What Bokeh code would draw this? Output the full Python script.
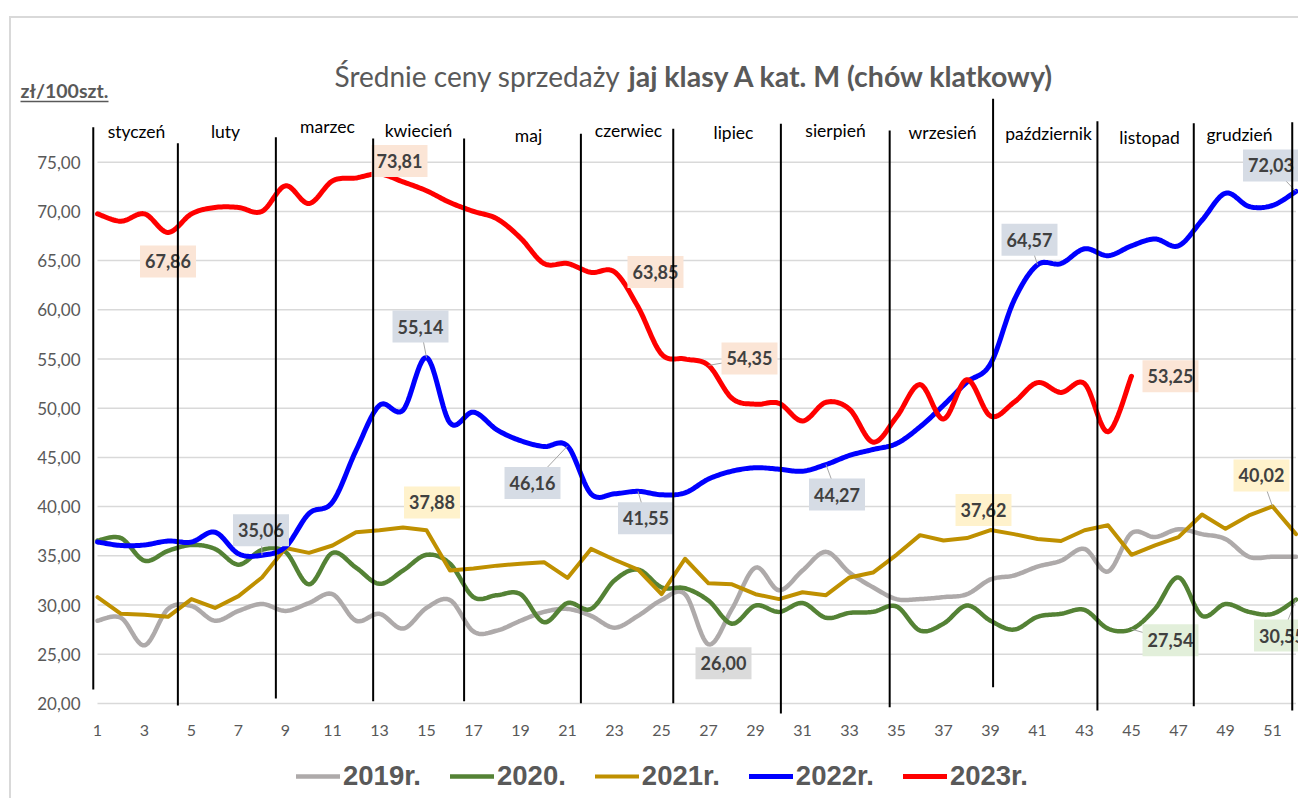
import numpy as np
from bokeh.plotting import figure
from bokeh.models import Range1d, Label, Legend, LegendItem, Arrow, ColumnDataSource
from bokeh.core.properties import value
from bokeh.embed import file_html
from bokeh.resources import INLINE

# ---------------- data ----------------
weeks = list(range(1, 53))
y2019 = [28.4, 28.7, 25.9, 29.6, 29.9, 28.4, 29.4, 30.1, 29.4, 30.2,
         31.1, 28.4, 29.1, 27.6, 29.7, 30.5, 27.3, 27.4, 28.4, 29.3,
         29.6, 28.9, 27.7, 28.9, 30.5, 31.1, 26.00, 29.6, 33.8, 31.5,
         33.5, 35.4, 33.3, 31.8, 30.6, 30.6, 30.8, 31.1, 32.6, 33.0,
         33.9, 34.5, 35.7, 33.4, 37.3, 36.9, 37.7, 37.2, 36.7, 34.9,
         34.9, 34.9]
y2020 = [36.55, 36.8, 34.5, 35.5, 36.1, 35.7, 34.1, 35.6, 35.4, 32.1,
         35.3, 33.8, 32.15, 33.5, 35.1, 34.2, 30.8, 31.0, 31.1, 28.25,
         30.2, 29.6, 32.5, 33.6, 31.8, 31.7, 30.45, 28.1, 29.95, 29.3,
         30.2, 28.7, 29.2, 29.3, 29.85, 27.4, 28.1, 29.95, 28.4, 27.5,
         28.8, 29.1, 29.5, 27.6, 27.54, 29.6, 32.8, 28.9, 30.1, 29.3,
         29.1, 30.55]
y2021 = [30.8, 29.1, 29.0, 28.8, 30.6, 29.7, 30.9, 32.8, 35.8, 35.3,
         36.05, 37.4, 37.6, 37.88, 37.6, 33.5, 33.7, 34.0, 34.2, 34.35,
         32.75, 35.7, 34.6, 33.6, 31.1, 34.7, 32.2, 32.1, 31.1, 30.6,
         31.3, 31.0, 32.8, 33.3, 35.1, 37.1, 36.55, 36.8, 37.62, 37.2,
         36.7, 36.5, 37.6, 38.1, 35.1, 36.05, 36.9, 39.2, 37.74, 39.1,
         40.02, 37.2]
y2022 = [36.4, 36.05, 36.1, 36.5, 36.4, 37.4, 35.2, 35.06, 35.9, 39.3,
         40.45, 45.7, 50.3, 49.8, 55.14, 48.5, 49.6, 47.8, 46.7, 46.1,
         46.16, 41.3, 41.3, 41.55, 41.2, 41.4, 42.8, 43.6, 43.95, 43.8,
         43.6, 44.27, 45.2, 45.8, 46.4, 48.1, 50.3, 52.65, 54.5, 60.95,
         64.57, 64.7, 66.2, 65.5, 66.5, 67.2, 66.5, 69.1, 71.85, 70.5,
         70.6, 72.03]
y2023 = [69.75, 69.0, 69.75, 67.86, 69.75, 70.4, 70.4, 70.0, 72.6, 70.8,
         73.1, 73.4, 73.81, 73.0, 72.1, 70.9, 70.0, 69.25, 67.3, 64.7,
         64.7, 63.8, 63.85, 60.3, 55.5, 55.0, 54.35, 51.0, 50.4, 50.5,
         48.7, 50.6, 49.9, 46.55, 49.1, 52.4, 48.9, 52.9, 49.2, 50.6,
         52.6, 51.6, 52.5, 47.6, 53.25]
series_names = ["2019r.", "2020.", "2021r.", "2022r.", "2023r."]
months = ["styczeń", "luty", "marzec", "kwiecień", "maj", "czerwiec", "lipiec",
          "sierpień", "wrzesień", "październik", "listopad", "grudzień"]
month_bounds = [0.82, 4.42, 8.59, 12.73, 16.6, 21.57, 25.5, 30.08, 34.71, 39.11, 43.55, 47.65, 51.84]
y_ticks = [20, 25, 30, 35, 40, 45, 50, 55, 60, 65, 70, 75]
y_tick_labels = ["20,00", "25,00", "30,00", "35,00", "40,00", "45,00", "50,00",
                 "55,00", "60,00", "65,00", "70,00", "75,00"]
x_ticks = list(range(1, 52, 2))
x_tick_labels = [str(t) for t in x_ticks]

# ---------------- styles ----------------
FONT = "Lato"
TXT = "#595959"
COLORS = ["#AEAAAA", "#548235", "#BF9000", "#0000FF", "#FF0000"]
WIDTHS = [4.5, 4.5, 4.0, 5.0, 5.0]
SMOOTH = [True, True, False, True, True]
LABEL_FILLS = ["#DBDBDB", "#E2EFDA", "#FFF2CC", "#D6DCE5", "#FBE5D6"]
PX_X = 23.5   # pixels per week
PX_Y = 9.84   # pixels per unit


def smooth(xs, ys, n=14):
    xs = np.asarray(xs, float)
    ys = np.asarray(ys, float)
    N = len(xs)
    ox, oy = [], []
    for i in range(N - 1):
        i0, i3 = max(i - 1, 0), min(i + 2, N - 1)
        x0, y0, x1, y1 = xs[i0], ys[i0], xs[i], ys[i]
        x2, y2, x3, y3 = xs[i + 1], ys[i + 1], xs[i3], ys[i3]
        c1x, c1y = x1 + (x2 - x0) / 6, y1 + (y2 - y0) / 6
        c2x, c2y = x2 - (x3 - x1) / 6, y2 - (y3 - y1) / 6
        t = np.linspace(0, 1, n, endpoint=(i == N - 2))
        a, b, c, d = (1 - t) ** 3, 3 * t * (1 - t) ** 2, 3 * t ** 2 * (1 - t), t ** 3
        ox.extend(a * x1 + b * c1x + c * c2x + d * x2)
        oy.extend(a * y1 + b * c1y + c * c2y + d * y2)
    return ox, oy


def wx(px):  # page pixel x -> week units (text placement)
    return 1 + (px - 97) / PX_X


def vy(py):  # page pixel y -> value units (text placement)
    return 75 - (py - 161.7) / PX_Y


p = figure(frame_width=1287, frame_height=780,
           x_range=Range1d(wx(11), wx(1298)), y_range=Range1d(vy(798), vy(18)),
           output_backend="svg", toolbar_location=None,
           x_axis_location=None, y_axis_location=None,
           min_border_left=0, min_border_right=0, min_border_top=0, min_border_bottom=0)
p.styles = {"margin-top": "16px", "margin-left": "9px",
            "border-top": "2px solid #D9D9D9", "border-left": "2px solid #D9D9D9"}
p.outline_line_color = None
p.grid.visible = False
p.background_fill_color = "white"
p.border_fill_color = "white"

# value grid and tick labels
p.segment(x0=[weeks[0]] * len(y_ticks), y0=y_ticks, x1=[weeks[-1]] * len(y_ticks), y1=y_ticks,
          line_color="#D9D9D9", line_width=1.5)
p.text(x=[wx(80)] * len(y_ticks), y=y_ticks, text=y_tick_labels, text_align="right",
       text_baseline="middle", text_font=value(FONT), text_font_size="17px", text_color=TXT)
p.text(x=x_ticks, y=[vy(730)] * len(x_ticks), text=x_tick_labels, text_align="center",
       text_baseline="middle", text_font=value(FONT), text_font_size="16px", text_color=TXT)

# month names
month_x = [wx(v) for v in [136, 225, 327, 418, 528, 628, 733, 835, 942, 1048, 1149, 1239]]
month_y = [vy(v) for v in [131, 131, 126, 130, 135, 130, 132, 130, 132, 133, 137, 134]]
p.text(x=month_x, y=month_y, text=months, text_align="center", text_baseline="middle",
       text_font=value(FONT), text_font_size="17.5px", text_color="black")

# title and unit
p.text(x=[wx(334)], y=[vy(75)], text=["Średnie ceny sprzedaży "], text_align="left",
       text_baseline="middle", text_font=value(FONT), text_font_size="28px", text_color=TXT)
p.text(x=[wx(628)], y=[vy(75)], text=["jaj klasy A kat.  M (chów klatkowy)"], text_align="left",
       text_baseline="middle", text_font=value(FONT), text_font_style="bold",
       text_font_size="28.5px", text_color=TXT)
p.text(x=[wx(20)], y=[vy(90)], text=["zł/100szt."], text_align="left",
       text_baseline="middle", text_font=value(FONT), text_font_style="bold",
       text_font_size="19.5px", text_color=TXT)
p.segment(x0=[wx(20)], y0=[vy(101)], x1=[wx(108)], y1=[vy(101)], line_color=TXT, line_width=1.5)

# series
all_series = [y2019, y2020, y2021, y2022, y2023]
renderers = []
for ys, col, lw, sm in zip(all_series, COLORS, WIDTHS, SMOOTH):
    xs = weeks[:len(ys)]
    sx, sy = smooth(xs, ys) if sm else (xs, ys)
    r = p.line(sx, sy, line_color=col, line_width=lw, line_join="round", line_cap="round")
    renderers.append(r)

# data labels: (series index, week, x offset px, y offset px, leader)
data_labels = [
    (4, 4, 0, -29, False), (4, 13, 20, 13, False), (4, 23, 41, 0, False),
    (4, 27, 41, 7, True), (4, 45, 39, 0, False),
    (3, 15, -6, 31, True), (3, 8, -1, 25, True), (3, 21, -35, -37, True),
    (3, 24, 8, -27, True), (3, 32, 11, -30, True), (3, 41, -8, 25, True),
    (3, 52, -25, 26, True),
    (2, 14, 29, 25, False), (2, 39, -7, 20, False), (2, 51, -11, 31, True),
    (0, 27, 15, -19, False),
    (1, 45, 39, -11, True), (1, 52, -14, -36, True),
]
for si, wk, dx, dy, leader in data_labels:
    v = all_series[si][wk - 1]
    if leader:
        p.segment(x0=[wk], y0=[v], x1=[wk + dx / PX_X], y1=[v + dy / PX_Y],
                  line_color="#A6A6A6", line_width=1)
    p.add_layout(Label(x=wk, y=v, x_offset=dx, y_offset=dy,
                       text=f"{v:.2f}".replace(".", ","),
                       text_align="center", text_baseline="middle",
                       text_font=FONT, text_font_style="bold", text_font_size="18px",
                       text_color="#404040", background_fill_color=LABEL_FILLS[si],
                       padding=dict(left=5, right=5, top=9, bottom=9)))

# month dividers (drawn on top, as in the reference)
div_top = [78.56, 76.93, 77.54, 77.41, 77.41, 77.88, 78.39, 78.9, 78.22, 81.44, 79.17, 78.96, 79.07]
div_bot = [21.41, 19.79, 20.5, 20.22, 20.22, 20.02, 20.02, 18.97, 19.61, 21.65, 19.28, 19.72, 19.28]
div_src = ColumnDataSource(dict(x0=month_bounds, y0=div_bot, x1=month_bounds, y1=div_top))
p.add_layout(Arrow(x_start="x0", y_start="y0", x_end="x1", y_end="y1", source=div_src,
                   start=None, end=None, line_color="black", line_width=2))

legend = Legend(items=[LegendItem(label=n, renderers=[r]) for n, r in zip(series_names, renderers)],
                orientation="horizontal", location=(285, 6),
                glyph_width=44, glyph_height=30, label_standoff=3, spacing=29,
                padding=0, margin=0, border_line_color=None, background_fill_alpha=0,
                label_text_font="Liberation Sans", label_text_font_style="bold",
                label_text_font_size="27.5px", label_text_color=TXT, label_height=30)
p.add_layout(legend)

open("out.html", "w").write(file_html(p, INLINE))
